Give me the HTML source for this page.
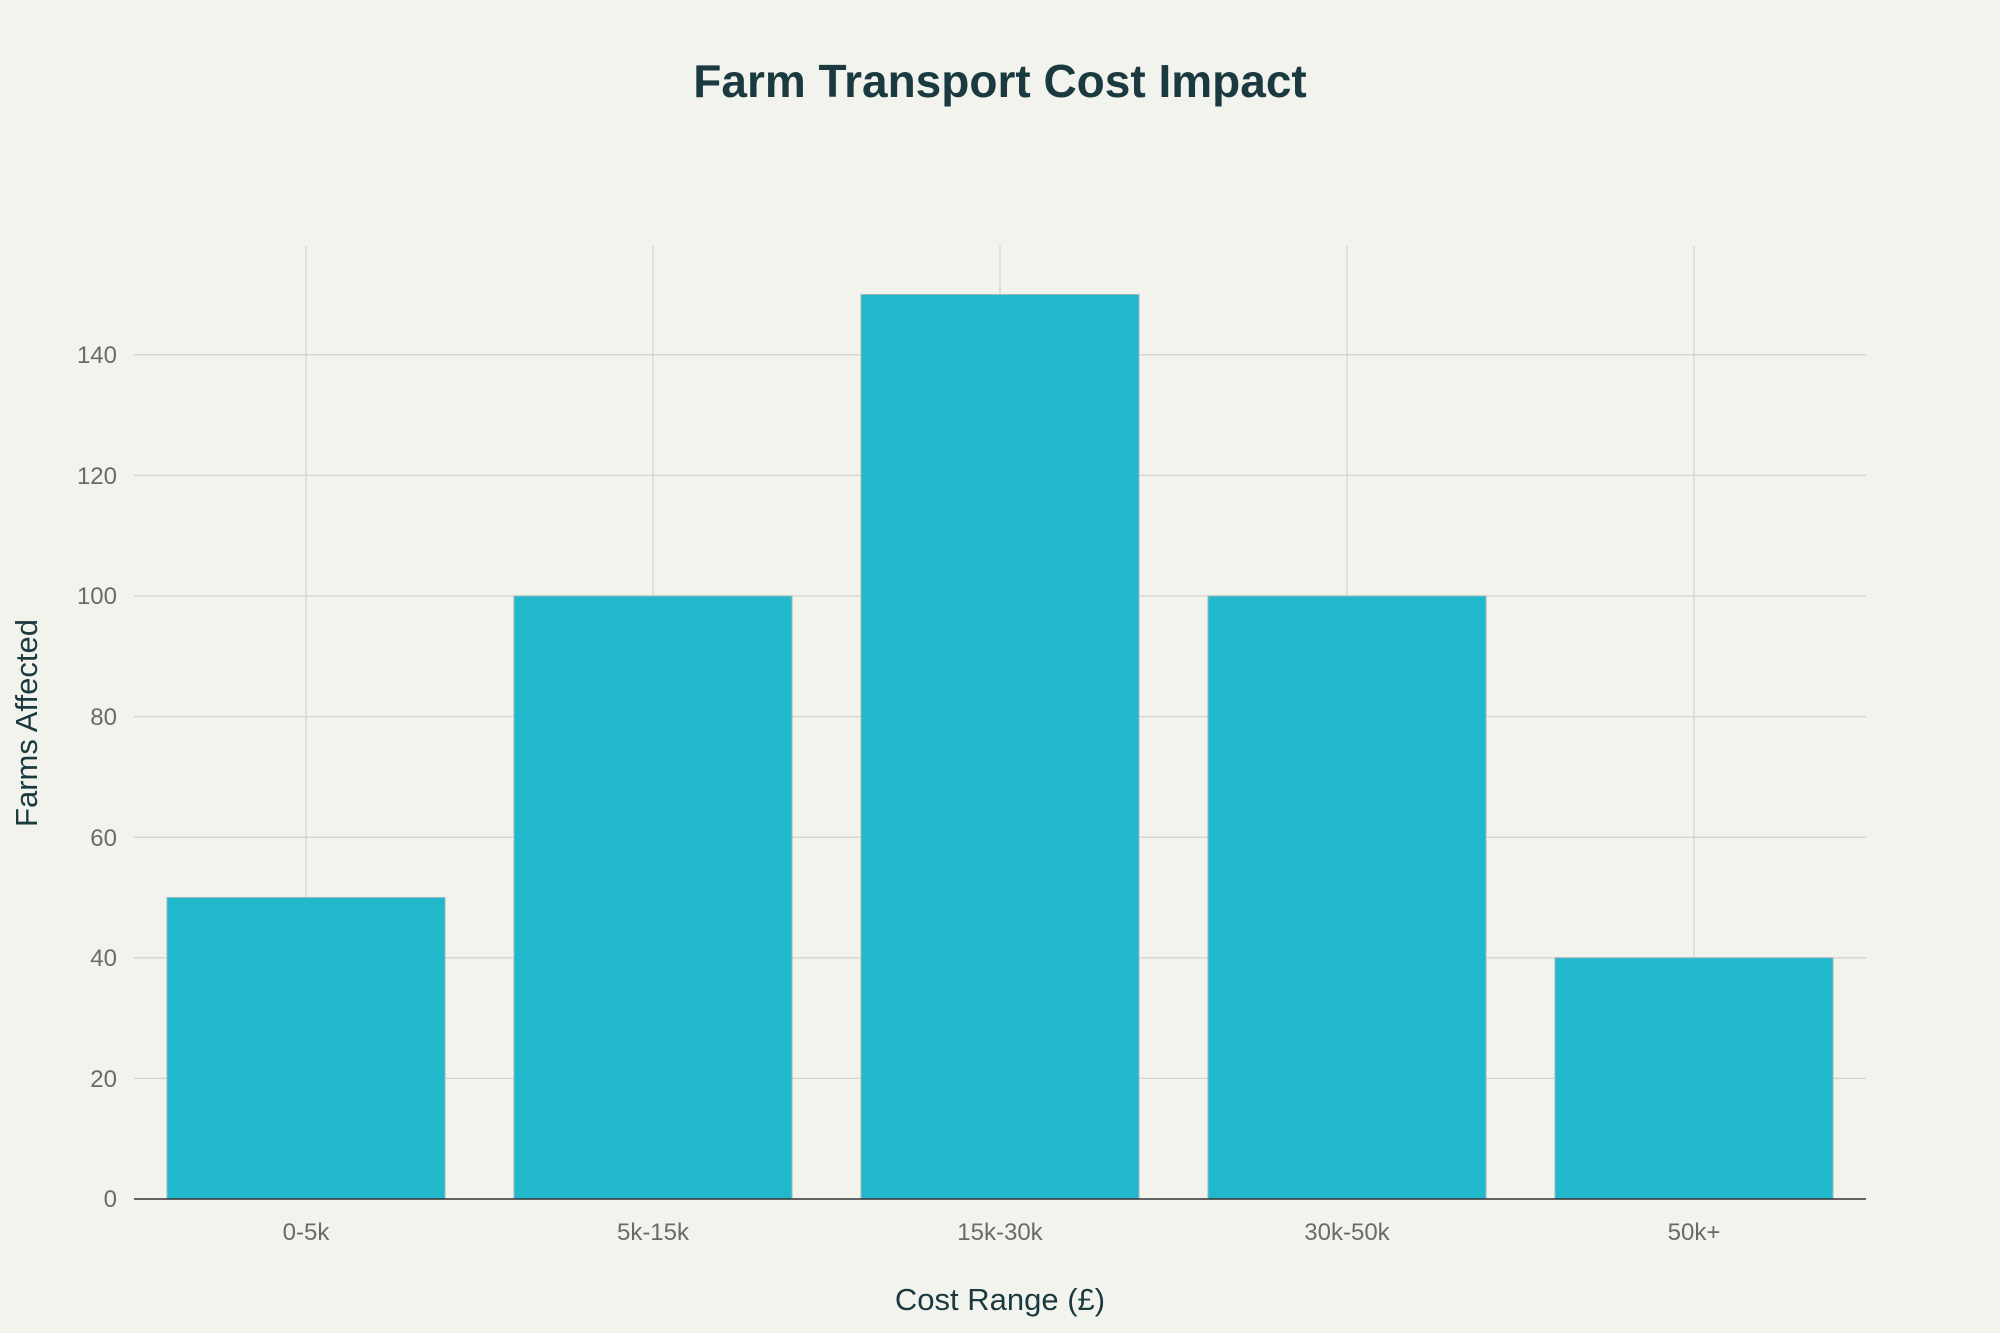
<!DOCTYPE html>
<html><head><meta charset="utf-8"><style>html,body{margin:0;padding:0;background:#f3f3ee;}svg{display:block}</style></head>
<body>
<svg width="2000" height="1333" viewBox="0 0 2000 1333" xmlns="http://www.w3.org/2000/svg" font-family="Liberation Sans, sans-serif">
<rect width="2000" height="1333" fill="#f3f3ee"/>
<text x="1000" y="97" text-anchor="middle" font-size="46" font-weight="bold" fill="#1b3a3f">Farm Transport Cost Impact</text>
<g stroke="#d4d4cf" stroke-width="1.3">
<line x1="134" x2="1866" y1="1078.4" y2="1078.4"/>
<line x1="134" x2="1866" y1="957.8" y2="957.8"/>
<line x1="134" x2="1866" y1="837.2" y2="837.2"/>
<line x1="134" x2="1866" y1="716.6" y2="716.6"/>
<line x1="134" x2="1866" y1="596" y2="596"/>
<line x1="134" x2="1866" y1="475.4" y2="475.4"/>
<line x1="134" x2="1866" y1="354.8" y2="354.8"/>
<line x1="306" x2="306" y1="246" y2="1199"/>
<line x1="653" x2="653" y1="246" y2="1199"/>
<line x1="1000" x2="1000" y1="246" y2="1199"/>
<line x1="1347" x2="1347" y1="246" y2="1199"/>
<line x1="1694" x2="1694" y1="246" y2="1199"/>
</g>
<g fill="#21b8cc" stroke="#9ab8bc" stroke-width="1">
<rect x="167" y="897.5" width="278" height="301.5"/>
<rect x="514" y="596" width="278" height="603"/>
<rect x="861" y="294.5" width="278" height="904.5"/>
<rect x="1208" y="596" width="278" height="603"/>
<rect x="1555" y="957.8" width="278" height="241.2"/>
</g>
<line x1="134" x2="1866" y1="1199" y2="1199" stroke="#333" stroke-width="1.5"/>
<g font-size="24" fill="#6a6a6a" text-anchor="end">
<text x="117" y="1207">0</text>
<text x="117" y="1087">20</text>
<text x="117" y="966">40</text>
<text x="117" y="846">60</text>
<text x="117" y="725">80</text>
<text x="117" y="604">100</text>
<text x="117" y="484">120</text>
<text x="117" y="363">140</text>
</g>
<g font-size="24" fill="#6a6a6a" text-anchor="middle">
<text x="306" y="1240">0-5k</text>
<text x="653" y="1240">5k-15k</text>
<text x="1000" y="1240">15k-30k</text>
<text x="1347" y="1240">30k-50k</text>
<text x="1694" y="1240">50k+</text>
</g>
<text x="1000" y="1310" text-anchor="middle" font-size="31" fill="#1b3a3f">Cost Range (£)</text>
<text transform="translate(37,723) rotate(-90)" text-anchor="middle" font-size="31" fill="#1b3a3f">Farms Affected</text>
</svg>
</body></html>
